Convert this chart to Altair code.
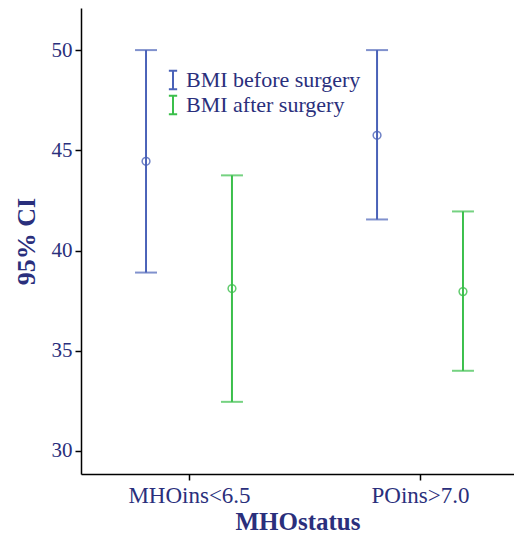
import altair as alt
import pandas as pd

categories = ["MHOins<6.5", "POins>7.0"]
series_names = ["BMI before surgery", "BMI after surgery"]
group = ["MHOins<6.5", "MHOins<6.5", "POins>7.0", "POins>7.0"]
series = ["BMI before surgery", "BMI after surgery", "BMI before surgery", "BMI after surgery"]
mean = [44.45, 38.10, 45.75, 37.95]
lower = [38.90, 32.45, 41.55, 34.00]
upper = [50.00, 43.75, 50.00, 41.95]

offset = {"BMI before surgery": -0.186, "BMI after surgery": 0.186}
df = pd.DataFrame({"group": group, "series": series, "mean": mean,
                   "lower": lower, "upper": upper})
df["pos"] = [categories.index(g) + offset[s] for g, s in zip(group, series)]

NAVY = "#2a2f7c"
FONT = "Liberation Serif"
BLUE = "#4a62b8"
GREEN = "#3bbf4b"

label_expr = "datum.value == 0 ? '%s' : '%s'" % (categories[0], categories[1])

x = alt.X("pos:Q", scale=alt.Scale(domain=[-0.4675, 1.4069], nice=False, zero=False),
          axis=alt.Axis(values=[0, 1], labelExpr=label_expr, title="MHOstatus",
                        grid=False, tickSize=6, labelPadding=4, titlePadding=2,
                        labelFontSize=23, titleFontSize=25))
y_axis = alt.Axis(values=[30, 35, 40, 45, 50], title="95% CI", grid=False,
                  tickSize=6, labelPadding=3, titlePadding=12, labelFontSize=21,
                  titleFontSize=26)
yscale = alt.Scale(domain=[28.85, 52.1], nice=False, zero=False)
color = alt.Color("series:N", scale=alt.Scale(domain=series_names, range=[BLUE, GREEN]),
                  legend=alt.Legend(title=None, orient="none", legendX=81, legendY=61,
                                    symbolType="M-0.45,-1H0.45M0,-1V1M-0.45,1H0.45",
                                    symbolSize=340, symbolStrokeWidth=2,
                                    symbolFillColor="transparent",
                                    labelFont=FONT, labelFontSize=22, labelColor=NAVY,
                                    labelLimit=400, rowPadding=-8, labelOffset=2))

base = alt.Chart(df)
rules = base.mark_rule(strokeWidth=2).encode(
    x=x, y=alt.Y("lower:Q", scale=yscale, axis=y_axis), y2="upper:Q", color=color)
top_caps = base.mark_tick(orient="horizontal", size=22, thickness=2).encode(
    x="pos:Q", y="upper:Q", color=alt.Color("series:N", legend=None))
bot_caps = base.mark_tick(orient="horizontal", size=22, thickness=2).encode(
    x="pos:Q", y="lower:Q", color=alt.Color("series:N", legend=None))
points = base.mark_point(shape="circle", filled=False, size=60, strokeWidth=1.5,
                         opacity=0.8).encode(
    x="pos:Q", y="mean:Q", color=alt.Color("series:N", legend=None))

chart = alt.layer(rules, top_caps, bot_caps, points).properties(
    width=433, height=466,
    autosize=alt.AutoSizeParams(type="none"),
    padding={"left": 73, "top": 0, "right": 0, "bottom": 59},
).configure_view(stroke=None).configure_axis(
    domainColor="black", domainWidth=1.5, tickColor="black", tickWidth=1.5,
    labelFont=FONT, labelColor=NAVY,
    titleFont=FONT, titleFontWeight="bold", titleColor=NAVY,
)

chart.save("out.html", embed_options={"renderer": "svg", "actions": False})
